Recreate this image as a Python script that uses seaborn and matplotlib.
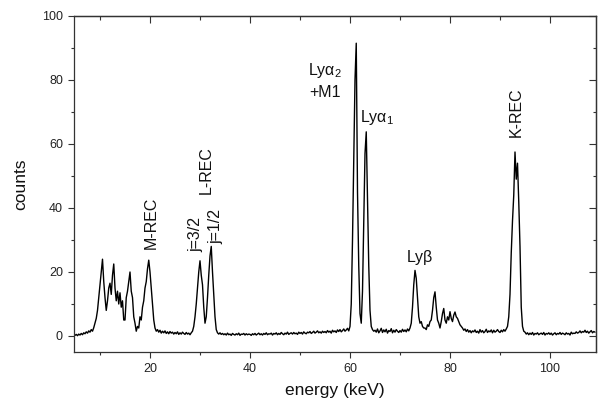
import numpy as np
import pandas as pd
import matplotlib
matplotlib.use("Agg")
import matplotlib.pyplot as plt
import seaborn as sns

# ---- data (0.25 keV bins from 5.0 to 109.0 keV) ----
e_start, e_step = 5.0, 0.25
counts = [
    # 5.0 - 9.75
    0.2, 0.5, 0.1, 0.6, 0.3, 0.8, 0.4, 1.0, 0.7, 1.3, 0.9, 1.6, 1.2, 2.0, 1.5, 2.6, 4.0, 5.5, 8.0, 12.0,
    # 10.0 - 14.75
    16.0, 20.0, 24.0, 17.0, 12.0, 8.0, 11.0, 15.0, 16.5, 13.0, 19.0, 22.5, 15.0, 11.0, 14.0, 10.0, 13.5, 9.0, 11.0, 5.0,
    # 15.0 - 19.75
    5.0, 12.0, 14.0, 17.0, 20.0, 14.0, 12.0, 6.0, 4.0, 1.5, 3.0, 2.5, 6.0, 5.0, 9.0, 11.0, 15.0, 17.0, 21.0, 23.7,
    # 20.0 - 24.75
    20.0, 15.0, 10.0, 5.0, 2.5, 1.5, 2.0, 1.2, 1.8, 0.9, 1.5, 1.0, 1.6, 0.8, 1.3, 0.7, 1.4, 0.9, 1.2, 0.6,
    # 25.0 - 29.75
    1.1, 0.7, 1.3, 0.5, 1.0, 0.6, 1.2, 0.8, 0.5, 1.1, 0.6, 0.9, 0.4, 1.0, 1.5, 3.0, 6.0, 10.0, 15.0, 20.0,
    # 30.0 - 34.75
    23.5, 19.0, 16.0, 9.0, 4.0, 6.0, 12.0, 19.0, 25.0, 28.0, 20.0, 13.0, 6.0, 2.0, 1.0, 0.6, 1.0, 0.5, 0.8, 0.4,
    # 35.0 - 39.75
    0.7, 0.3, 0.9, 0.4, 0.6, 0.2, 0.8, 0.5, 0.3, 0.7, 0.4, 0.9, 0.2, 0.6, 0.5, 0.8, 0.3, 0.7, 0.4, 0.6,
    # 40.0 - 44.75
    0.5, 0.2, 0.7, 0.4, 0.8, 0.3, 0.6, 0.9, 0.4, 0.7, 0.3, 0.8, 0.5, 1.0, 0.4, 0.7, 0.6, 0.9, 0.3, 0.8,
    # 45.0 - 49.75
    0.6, 1.0, 0.4, 0.8, 0.5, 1.1, 0.7, 0.4, 0.9, 0.6, 1.2, 0.5, 0.8, 1.0, 0.6, 1.1, 0.7, 0.9, 0.5, 1.2,
    # 50.0 - 54.75
    0.8, 1.1, 0.6, 1.3, 0.9, 0.7, 1.2, 1.0, 1.4, 0.8, 1.1, 1.5, 0.9, 1.2, 1.6, 1.0, 1.3, 0.9, 1.5, 1.1,
    # 55.0 - 59.75
    1.4, 1.0, 1.7, 1.2, 1.5, 0.9, 1.8, 1.3, 1.6, 1.1, 1.9, 1.4, 2.0, 1.3, 1.7, 2.2, 1.5, 1.9, 2.4, 1.6,
    # 60.0 - 64.75
    3.0, 10.0, 30.0, 55.0, 80.0, 91.5, 45.0, 22.0, 7.0, 4.0, 14.0, 35.0, 57.0, 63.8, 42.0, 22.0, 8.0, 3.0, 2.0, 1.5,
    # 65.0 - 69.75
    1.8, 1.2, 2.2, 1.0, 1.6, 2.4, 1.1, 1.9, 1.3, 2.1, 0.9, 1.7, 1.4, 2.3, 1.0, 1.8, 1.2, 2.0, 1.5, 1.1,
    # 70.0 - 74.75
    1.7, 1.2, 2.1, 1.4, 1.9, 1.3, 2.2, 1.6, 2.5, 4.0, 9.0, 16.0, 20.5, 18.0, 12.0, 6.0, 4.0, 4.5, 3.0, 2.5,
    # 75.0 - 79.75
    2.5, 2.0, 3.5, 3.0, 4.5, 5.0, 8.0, 12.0, 13.8, 9.0, 5.0, 4.0, 2.5, 4.5, 7.0, 8.6, 5.0, 4.0, 6.0, 5.0,
    # 80.0 - 84.75
    7.6, 5.5, 4.5, 6.5, 7.5, 6.0, 5.5, 4.5, 3.5, 3.0, 2.5, 1.8, 2.2, 1.4, 2.0, 1.2, 1.7, 1.0, 1.6, 1.3,
    # 85.0 - 89.75
    1.9, 1.1, 1.5, 0.9, 2.0, 1.2, 1.7, 1.0, 1.4, 2.1, 1.1, 1.6, 1.3, 1.9, 1.0, 1.8, 1.2, 1.5, 2.0, 1.4,
    # 90.0 - 94.75
    1.1, 1.8, 1.3, 2.0, 1.5, 2.2, 3.0, 6.0, 13.0, 26.0, 36.0, 44.0, 57.5, 49.0, 54.0, 42.0, 28.0, 9.0, 3.0, 1.5,
    # 95.0 - 99.75
    1.2, 0.6, 1.0, 0.4, 0.9, 0.5, 1.1, 0.3, 0.8, 0.6, 1.0, 0.4, 0.7, 0.9, 0.5, 1.1, 0.3, 0.8, 0.6, 1.0,
    # 100.0 - 104.75
    0.5, 0.9, 0.3, 0.7, 1.0, 0.4, 0.8, 0.6, 1.1, 0.5, 0.9, 0.7, 0.4, 1.0, 0.6, 0.8, 0.3, 1.2, 0.7, 0.9,
    # 105.0 - 109.0
    0.8, 1.3, 0.9, 1.1, 1.6, 1.0, 1.4, 1.2, 1.8, 1.1, 1.5, 0.9, 1.3, 1.7, 1.0, 1.4, 1.2,
]
energy = np.round(e_start + e_step * np.arange(len(counts)), 2)

x_ticks = [20, 40, 60, 80, 100]
y_ticks = [0, 20, 40, 60, 80, 100]

# peak labels: (text, energy, counts, rotation, vertical alignment)
labels_text = ["M-REC", "j=3/2", "L-REC", "j=1/2",
               r"Ly$\mathrm{\alpha}_2$", "+M1", r"Ly$\mathrm{\alpha}_1$", r"Ly$\mathrm{\beta}$", "K-REC"]
labels_e = [20.2, 29.1, 31.2, 33.2, 55.0, 55.0, 65.4, 74.0, 93.3]
labels_c = [35.5, 31.7, 52.0, 34.3, 81.6, 74.7, 66.9, 23.2, 70.0]
labels_rot = [90, 90, 90, 90, 0, 0, 0, 0, 90]
labels_va = ["center", "center", "center", "center",
             "baseline", "baseline", "baseline", "baseline", "center"]

df = pd.DataFrame({"energy": energy, "counts": counts})

# ---- figure ----
sns.set_style("ticks")
plt.rcParams["font.family"] = ["Liberation Sans", "DejaVu Sans"]
plt.rcParams["mathtext.fontset"] = "custom"
plt.rcParams["mathtext.rm"] = "Liberation Sans"
plt.rcParams["mathtext.it"] = "Liberation Sans"
plt.rcParams["mathtext.bf"] = "Liberation Sans"

fig = plt.figure(figsize=(5.99, 4.09), dpi=100)
ax = fig.add_axes([74 / 599, 57 / 409, 522 / 599, 336 / 409])

sns.lineplot(data=df, x="energy", y="counts", color="black", linewidth=1.0,
             estimator=None, sort=False, ax=ax)

ax.set_xlim(4.8, 109.2)
ax.set_ylim(-5, 100)
ax.set_xticks(x_ticks)
ax.set_yticks(y_ticks)
ax.set_xticks([10, 30, 50, 70, 90], minor=True)
ax.set_yticks([10, 30, 50, 70, 90], minor=True)
ax.tick_params(axis="both", which="major", direction="out", length=4.5, width=0.8,
               labelsize=9, pad=3.5, color="#333333", labelcolor="#222222")
ax.tick_params(axis="both", which="minor", direction="out", length=2.3, width=0.8,
               color="#333333")
for s in ax.spines.values():
    s.set_linewidth(0.9)
    s.set_color("#333333")
    s.set_visible(True)

# inward ticks on top and right
top = ax.secondary_xaxis("top")
top.set_xticks(x_ticks)
top.set_xticks([10, 30, 50, 70, 90], minor=True)
top.tick_params(which="major", direction="in", length=5, width=0.8, labeltop=False, color="#333333")
top.tick_params(which="minor", direction="in", length=3, width=0.8, color="#333333")
top.spines["top"].set_linewidth(0.9)
right = ax.secondary_yaxis("right")
right.set_yticks(y_ticks)
right.set_yticks([10, 30, 50, 70, 90], minor=True)
right.tick_params(which="major", direction="in", length=5, width=0.8, labelright=False, color="#333333")
right.tick_params(which="minor", direction="in", length=2.5, width=0.8, color="#333333")
right.spines["right"].set_linewidth(0.9)

ax.set_xlabel("energy (keV)", fontsize=12.5, labelpad=6, color="#111111")
ax.set_ylabel("counts", fontsize=12.5, labelpad=10, color="#111111")

for t, xe, yc, rot, va in zip(labels_text, labels_e, labels_c, labels_rot, labels_va):
    ax.text(xe, yc, t, rotation=rot, ha="center", va=va, fontsize=11.5, color="#111111")

fig.savefig("out.png", dpi=100)
